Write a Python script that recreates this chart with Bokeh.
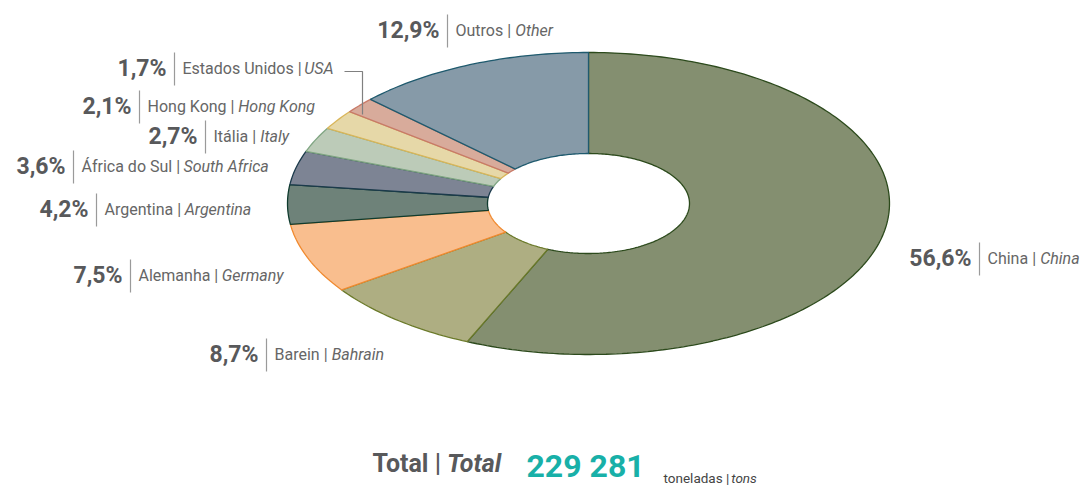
import math
from bokeh.plotting import figure
from bokeh.models import Range1d, ColumnDataSource
from bokeh.core.properties import value
from bokeh.embed import file_html
from bokeh.resources import INLINE

# ---- data ----
names_pt = ["China", "Barein", "Alemanha", "Argentina", "África do Sul",
            "Itália", "Hong Kong", "Estados Unidos", "Outros"]
names_en = ["China", "Bahrain", "Germany", "Argentina", "South Africa",
            "Italy", "Hong Kong", "USA", "Other"]
shares = [56.6, 8.7, 7.5, 4.2, 3.6, 2.7, 2.1, 1.7, 12.9]
total_value = "229 281"

# ---- styles / layout ----
fills = ["#848f70", "#aeae82", "#f9be8e", "#6e8279", "#7d8494",
         "#bccbb8", "#e6d8a8", "#d8ab9b", "#869aa8"]
edges = ["#2c4a1c", "#6b7a2a", "#f08a30", "#0f3b2e", "#1b3a4b",
         "#7fa582", "#d9b65a", "#c87a68", "#1f5a6e"]
sep_x = [979, 266, 130, 96, 73, 205, 139, 174, 447]
lab_y = [258, 354, 275, 209, 166, 136, 106, 68, 30]

W, H = 1083, 485
CX, CY = 588, 203
RXO, RYO = 301, 151
RXI, RYI = 101, 50

FONT = "Roboto"
PCT_COL = "#58595b"
NAME_COL = "#666666"

# approximate Roboto advance widths (units/2048)
CW = {' ': 507, '|': 490, 'A': 1336, 'Á': 1336, 'B': 1275, 'C': 1333, 'D': 1343,
      'E': 1164, 'F': 1132, 'G': 1395, 'H': 1460, 'I': 557, 'Í': 557, 'K': 1284,
      'O': 1408, 'S': 1217, 'U': 1327, 'T': 1222, 'a': 1088, 'á': 1088, 'b': 1120,
      'c': 1046, 'd': 1126, 'e': 1058, 'f': 694, 'g': 1120, 'h': 1102, 'i': 486,
      'j': 478, 'k': 1014, 'l': 486, 'm': 1751, 'n': 1104, 'o': 1140, 'p': 1120,
      'r': 678, 's': 1030, 't': 653, 'u': 1102, 'v': 968, 'y': 946}


def text_w(s, size):
    return sum(CW.get(ch, 1050) for ch in s) * size / 2048.0


p = figure(width=W, height=H, x_range=Range1d(0, W), y_range=Range1d(H, 0),
           x_axis_type=None, y_axis_type=None, toolbar_location=None,
           output_backend="svg", min_border=0, outline_line_color=None,
           background_fill_color="white", border_fill_color="white")
p.xgrid.visible = False
p.ygrid.visible = False

# ---- donut slices (elliptical) ----
xs, ys = [], []
cum = 0.0
tot = sum(shares)
for s in shares:
    t0 = cum / tot * 2 * math.pi
    cum += s
    t1 = cum / tot * 2 * math.pi
    n = max(4, int((t1 - t0) / (2 * math.pi) * 360))
    ts = [t0 + (t1 - t0) * k / n for k in range(n + 1)]
    ox = [CX + RXO * math.sin(t) for t in ts]
    oy = [CY - RYO * math.cos(t) for t in ts]
    ix = [CX + RXI * math.sin(t) for t in reversed(ts)]
    iy = [CY - RYI * math.cos(t) for t in reversed(ts)]
    xs.append(ox + ix)
    ys.append(oy + iy)

p.patches(xs, ys, fill_color=fills, line_color=edges, line_width=1.3)

# ---- labels ----
pct_txt = [("%.1f" % s).replace(".", ",") + "%" for s in shares]
pt_txt = [n + " | " for n in names_pt]
NAME_SIZE = 16
it_x = [x + 9 + text_w(t, NAME_SIZE) for x, t in zip(sep_x, pt_txt)]

src = ColumnDataSource(dict(
    sx=sep_x, y=lab_y, pct=pct_txt, pt=pt_txt, en=names_en,
    px=[x - 8 for x in sep_x], nx=[x + 8 for x in sep_x], ix=it_x,
    y0=[y - 16 for y in lab_y], y1=[y + 17 for y in lab_y]))

p.segment(x0="sx", y0="y0", x1="sx", y1="y1", source=src,
          line_color="#9a9a9a", line_width=1.2)
p.text(x="px", y="y", text="pct", source=src, text_font=value(FONT),
       text_font_style="bold", text_font_size=value("23px"),
       text_align="right", text_baseline="middle", text_color=PCT_COL)
p.text(x="nx", y="y", text="pt", source=src, text_font=value(FONT),
       text_font_size=value("%.1fpx" % NAME_SIZE),
       text_align="left", text_baseline="middle", text_color=NAME_COL)
p.text(x="ix", y="y", text="en", source=src, text_font=value(FONT),
       text_font_style="italic", text_font_size=value("%.1fpx" % NAME_SIZE),
       text_align="left", text_baseline="middle", text_color=NAME_COL)

# leader line for USA label
p.line(x=[344, 362, 362], y=[71, 71, 114], line_color="#808080", line_width=1.2)

# ---- total ----
TOT_SIZE = 25
p.text(x=[372], y=[463], text=["Total | "], text_font=value(FONT),
       text_font_style="bold", text_font_size=value("%dpx" % TOT_SIZE),
       text_align="left", text_baseline="middle", text_color=PCT_COL)
p.text(x=[372 + text_w("Total | ", TOT_SIZE) * 1.0], y=[463], text=["Total"],
       text_font=value(FONT), text_font_style="bold italic",
       text_font_size=value("%dpx" % TOT_SIZE),
       text_align="left", text_baseline="middle", text_color=PCT_COL)
p.text(x=[526], y=[465], text=[total_value], text_font=value(FONT),
       text_font_style="bold", text_font_size=value("32px"),
       text_align="left", text_baseline="middle", text_color="#18b0a8")
p.text(x=[663], y=[477], text=["toneladas | "], text_font=value(FONT),
       text_font_size=value("13.5px"), text_align="left",
       text_baseline="middle", text_color="#444444")
p.text(x=[663 + text_w("toneladas | ", 13.5)], y=[477], text=["tons"],
       text_font=value(FONT), text_font_style="italic",
       text_font_size=value("13.5px"), text_align="left",
       text_baseline="middle", text_color="#444444")

open("out.html", "w").write(file_html(p, INLINE))
